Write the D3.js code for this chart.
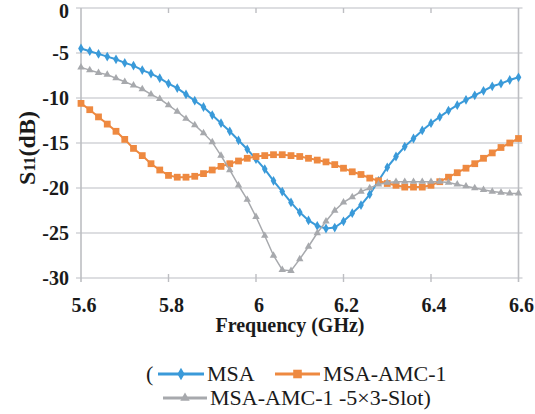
<!DOCTYPE html>
<html><head><meta charset="UTF-8">
<script src="https://cdn.jsdelivr.net/npm/d3@7.9.0/dist/d3.min.js"></script></head>
<body style="margin:0">
<script>
// frequency points, 5.6 .. 6.6 GHz in 0.02 steps
const freq = d3.range(51).map(i => +(5.6 + i * 0.02).toFixed(2));

const msa = [
  -4.5, -4.8, -5.1, -5.4, -5.7, -6.1, -6.4, -6.9, -7.3, -7.8,
  -8.4, -8.9, -9.6, -10.3, -11.0, -11.9, -12.8, -13.7, -14.7, -15.7,
  -16.8, -17.9, -19.2, -20.4, -21.6, -22.7, -23.6, -24.2, -24.5, -24.4,
  -23.7, -22.8, -21.9, -20.7, -19.2, -17.7, -16.5, -15.4, -14.5, -13.6,
  -12.8, -12.1, -11.4, -10.8, -10.2, -9.7, -9.2, -8.7, -8.4, -8.0, -7.7
];
const msaAmc = [
  -10.6, -11.3, -12.1, -12.9, -13.7, -14.6, -15.6, -16.4, -17.3, -18.0,
  -18.6, -18.8, -18.8, -18.7, -18.4, -18.0, -17.6, -17.3, -17.0, -16.7,
  -16.5, -16.4, -16.3, -16.3, -16.4, -16.5, -16.7, -16.9, -17.1, -17.4,
  -17.8, -18.2, -18.5, -18.9, -19.2, -19.5, -19.7, -19.9, -19.9, -19.9,
  -19.7, -19.3, -18.8, -18.3, -17.8, -17.3, -16.7, -16.1, -15.5, -15.0, -14.5
];
const msaAmcSlot = [
  -6.6, -6.9, -7.2, -7.4, -7.8, -8.2, -8.6, -9.0, -9.6, -10.1,
  -10.8, -11.5, -12.3, -13.0, -13.9, -14.9, -16.4, -18.0, -19.7, -21.3,
  -23.2, -25.3, -27.5, -29.1, -29.2, -27.9, -26.5, -25.0, -23.7, -22.5,
  -21.6, -21.0, -20.4, -20.0, -19.6, -19.4, -19.3, -19.3, -19.3, -19.3,
  -19.3, -19.3, -19.4, -19.6, -19.8, -20.0, -20.2, -20.4, -20.5, -20.6, -20.6
];

const xTicks = [5.6, 5.8, 6, 6.2, 6.4, 6.6];
const yTicks = [0, -5, -10, -15, -20, -25, -30];
const legendNames = ["MSA", "MSA-AMC-1", "MSA-AMC-1 -5×3-Slot)"];

const series = [
  { name: legendNames[0], values: msa, color: "#3a9ad9", symbol: d3.symbolDiamond, size: 28, width: 2 },
  { name: legendNames[1], values: msaAmc, color: "#ee8940", symbol: d3.symbolSquare, size: 46, width: 2 },
  { name: legendNames[2], values: msaAmcSlot, color: "#a7a9ad", symbol: d3.symbolTriangle, size: 24, width: 1.5 }
];

const FONT = "Times New Roman";
const svg = d3.select("body").append("svg").attr("width", 535).attr("height", 414);

const x = d3.scaleLinear().domain([5.6, 6.6]).range([81, 518.5]);
const y = d3.scaleLinear().domain([-30, 0]).range([278, 8]);

// horizontal gridlines, a little past both frame lines
svg.append("g").selectAll("line").data(yTicks).join("line")
  .attr("x1", x(5.6) - 5).attr("x2", x(6.6) + 4)
  .attr("y1", d => y(d)).attr("y2", d => y(d))
  .attr("stroke", "#d2d3d7").attr("stroke-width", 1.6);

// left and right frame lines
svg.append("g").selectAll("line").data([5.6, 6.6]).join("line")
  .attr("x1", d => x(d)).attr("x2", d => x(d))
  .attr("y1", y(0)).attr("y2", y(-30) + 4)
  .attr("stroke", "#bdbec2").attr("stroke-width", 1.6);

// short tick marks at top and bottom
const inner = xTicks.slice(1, -1);
svg.append("g").selectAll("line").data(inner).join("line")
  .attr("x1", d => x(d)).attr("x2", d => x(d))
  .attr("y1", y(0)).attr("y2", y(0) + 5)
  .attr("stroke", "#bdbec2").attr("stroke-width", 1.4);
svg.append("g").selectAll("line").data(inner).join("line")
  .attr("x1", d => x(d)).attr("x2", d => x(d))
  .attr("y1", y(-30) - 4).attr("y2", y(-30) + 4)
  .attr("stroke", "#bdbec2").attr("stroke-width", 1.4);

// tick labels
svg.append("g").selectAll("text").data(yTicks).join("text")
  .attr("x", 69).attr("y", d => y(d) + (d === 0 ? 10 : 7))
  .attr("text-anchor", "end")
  .attr("font-family", FONT)
  .attr("font-size", 20).attr("font-weight", "bold")
  .attr("fill", "#1a1a1a")
  .text(d => d);

svg.append("g").selectAll("text").data(xTicks).join("text")
  .attr("x", d => x(d) + 3).attr("y", 312)
  .attr("text-anchor", "middle")
  .attr("font-family", FONT)
  .attr("font-size", 20).attr("font-weight", "bold")
  .attr("fill", "#1a1a1a")
  .text(d => d);

// axis titles
svg.append("text")
  .attr("x", 290).attr("y", 332)
  .attr("text-anchor", "middle")
  .attr("font-family", FONT)
  .attr("font-size", 20).attr("font-weight", "bold")
  .attr("fill", "#1a1a1a")
  .text("Frequency (GHz)");

const yl = svg.append("text")
  .attr("transform", "translate(35,148) rotate(-90)")
  .attr("text-anchor", "middle")
  .attr("font-family", FONT)
  .attr("font-size", 24).attr("font-weight", "bold")
  .attr("fill", "#1a1a1a");
yl.append("tspan").text("S");
yl.append("tspan").attr("font-size", 16).text("11");
yl.append("tspan").text("(dB)");

// lines and markers
const line = d3.line().x((d, i) => x(freq[i])).y(d => y(d));

series.forEach(s => {
  const g = svg.append("g");
  g.append("path")
    .attr("d", line(s.values))
    .attr("fill", "none")
    .attr("stroke", s.color)
    .attr("stroke-width", s.width);
  g.selectAll("path.m").data(s.values).join("path")
    .attr("class", "m")
    .attr("transform", (d, i) => `translate(${x(freq[i])},${y(d)})`)
    .attr("d", d3.symbol().type(s.symbol).size(s.size))
    .attr("fill", s.color);
});

// legend
const legend = svg.append("g");
legend.append("text").attr("x", 146).attr("y", 381)
  .attr("font-family", FONT).attr("font-size", 22)
  .attr("fill", "#1a1a1a").text("(");

const legendItems = [
  { s: series[0], x1: 158, x2: 204, ty: 381 },
  { s: series[1], x1: 275, x2: 320, ty: 381 },
  { s: series[2], x1: 163, x2: 207, ty: 405 }
];
legendItems.forEach(it => {
  const cy = it.ty - 7;
  legend.append("line")
    .attr("x1", it.x1).attr("x2", it.x2)
    .attr("y1", cy).attr("y2", cy)
    .attr("stroke", it.s.color).attr("stroke-width", 3);
  legend.append("path")
    .attr("transform", `translate(${(it.x1 + it.x2) / 2},${cy})`)
    .attr("d", d3.symbol().type(it.s.symbol).size(it.s.size * 1.6))
    .attr("fill", it.s.color);
  legend.append("text")
    .attr("x", it.x2 + 3).attr("y", it.ty)
    .attr("font-family", FONT).attr("font-size", 22)
    .attr("fill", "#1a1a1a")
    .text(it.s.name);
});
</script></body></html>
